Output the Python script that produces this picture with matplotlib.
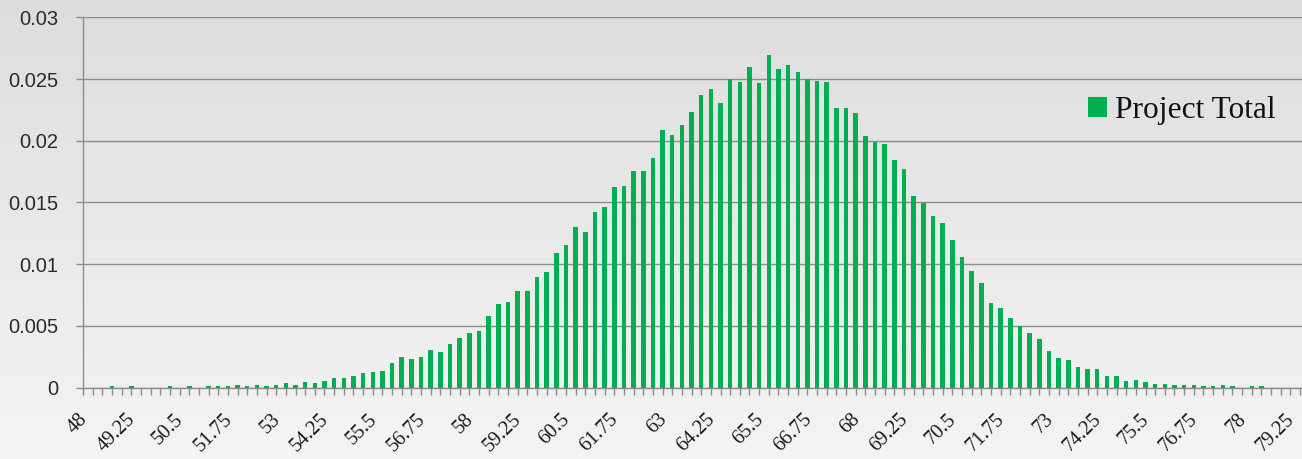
import numpy as np
import matplotlib
matplotlib.use("Agg")
import matplotlib.pyplot as plt
from matplotlib.colors import LinearSegmentedColormap
from matplotlib.transforms import ScaledTranslation
from matplotlib.font_manager import FontProperties

# Bin centres of the simulated project total
categories = [
    48.0, 48.25, 48.5, 48.75, 49.0, 49.25, 49.5, 49.75, 50.0, 50.25,
    50.5, 50.75, 51.0, 51.25, 51.5, 51.75, 52.0, 52.25, 52.5, 52.75,
    53.0, 53.25, 53.5, 53.75, 54.0, 54.25, 54.5, 54.75, 55.0, 55.25,
    55.5, 55.75, 56.0, 56.25, 56.5, 56.75, 57.0, 57.25, 57.5, 57.75,
    58.0, 58.25, 58.5, 58.75, 59.0, 59.25, 59.5, 59.75, 60.0, 60.25,
    60.5, 60.75, 61.0, 61.25, 61.5, 61.75, 62.0, 62.25, 62.5, 62.75,
    63.0, 63.25, 63.5, 63.75, 64.0, 64.25, 64.5, 64.75, 65.0, 65.25,
    65.5, 65.75, 66.0, 66.25, 66.5, 66.75, 67.0, 67.25, 67.5, 67.75,
    68.0, 68.25, 68.5, 68.75, 69.0, 69.25, 69.5, 69.75, 70.0, 70.25,
    70.5, 70.75, 71.0, 71.25, 71.5, 71.75, 72.0, 72.25, 72.5, 72.75,
    73.0, 73.25, 73.5, 73.75, 74.0, 74.25, 74.5, 74.75, 75.0, 75.25,
    75.5, 75.75, 76.0, 76.25, 76.5, 76.75, 77.0, 77.25, 77.5, 77.75,
    78.0, 78.25, 78.5, 78.75, 79.0, 79.25,
]

# Relative frequency of each bin
project_total = [
    0.0, 0.0, 0.0, 0.00015, 0.0, 0.00015, 0.0, 0.0, 0.0, 0.00012,
    0.0, 0.00012, 0.0, 0.00014, 0.00014, 0.00014, 0.00024, 0.00014, 0.00024, 0.00014,
    0.00024, 0.00035, 0.00024, 0.00046, 0.00035, 0.00057, 0.00076, 0.00076, 0.00097, 0.00116,
    0.00127, 0.00138, 0.0020, 0.0025, 0.0023, 0.0025, 0.00303, 0.00292, 0.00354, 0.00405,
    0.00447, 0.00458, 0.00584, 0.00676, 0.00696, 0.0078, 0.0078, 0.00895, 0.00936, 0.01092,
    0.01154, 0.01301, 0.01259, 0.01427, 0.01465, 0.01622, 0.0163, 0.01757, 0.01757, 0.0186,
    0.02089, 0.02048, 0.0213, 0.02236, 0.0237, 0.02422, 0.02308, 0.0250, 0.02474, 0.0260,
    0.02465, 0.02694, 0.02578, 0.0261, 0.02558, 0.0250, 0.02486, 0.02474, 0.02268, 0.02268,
    0.02228, 0.02038, 0.01992, 0.01975, 0.01842, 0.01768, 0.01552, 0.01496, 0.01394, 0.01332,
    0.01197, 0.01062, 0.00949, 0.00846, 0.00689, 0.00649, 0.00562, 0.00498, 0.0044, 0.00397,
    0.00294, 0.00243, 0.00222, 0.00168, 0.00149, 0.00149, 0.00096, 0.00095, 0.00054, 0.00062,
    0.00044, 0.00034, 0.00034, 0.00025, 0.00025, 0.00025, 0.00015, 0.00015, 0.00025, 0.00014,
    0.0, 0.00014, 0.00014, 0.0, 0.0, 0.0,
]

y_ticks = [0.0, 0.005, 0.01, 0.015, 0.02, 0.025, 0.03]
y_tick_labels = ["0", "0.005", "0.01", "0.015", "0.02", "0.025", "0.03"]
label_every = 5
series_name = "Project Total"

BAR_GREEN = "#00b050"
GRID_GREY = "#8c8c8c"
TEXT_DARK = "#2b2b2b"

W, H = 1302, 459
fig = plt.figure(figsize=(W / 100, H / 100), dpi=100)

# Soft vertical gradient behind the whole chart
bg = fig.add_axes([0, 0, 1, 1], zorder=0)
grad = np.linspace(0, 1, 256).reshape(-1, 1)
bg_cmap = LinearSegmentedColormap.from_list("bg", ["#dddddd", "#f4f4f4"])
bg.imshow(grad, aspect="auto", cmap=bg_cmap, extent=[0, 1, 0, 1], origin="upper")
bg.axis("off")

left, right = 83, 1302
base_y, top_y = 387.7, 17.3
ax = fig.add_axes([left / W, (H - base_y) / H, (right - left) / W, (base_y - top_y) / H], zorder=1)
ax.set_facecolor("none")

pos = np.arange(len(categories))
ax.bar(pos, project_total, width=0.47, color=BAR_GREEN, zorder=3, label=series_name)

ax.set_xlim(0, 126.2)
ax.set_ylim(0, 0.03)

# y axis
ax.set_yticks(y_ticks)
ax.set_yticklabels(y_tick_labels, fontproperties=FontProperties(family="Liberation Sans", size=14.5))
ax.yaxis.grid(True, color=GRID_GREY, linewidth=1.0, zorder=0)
ax.set_axisbelow(True)
ax.tick_params(axis="y", length=5, width=1.0, color=GRID_GREY, pad=13, labelcolor=TEXT_DARK)

# x axis: a tick for every bin, a label for every fifth one
major_pos = pos[::label_every]
major_lab = [f"{categories[i]:g}" for i in major_pos]
ax.set_xticks(major_pos)
ax.set_xticklabels(major_lab, rotation=45, ha="right", va="top",
                   fontproperties=FontProperties(family="Liberation Serif", size=14.5))
ax.set_xticks(np.arange(0, 127), minor=True)
ax.tick_params(axis="x", which="both", length=5, width=1.0, color=GRID_GREY, labelcolor="#1a1a1a")
ax.tick_params(axis="x", which="major", pad=11)
shift = ScaledTranslation(8 / 100, 0, fig.dpi_scale_trans)
for lbl in ax.get_xticklabels():
    lbl.set_transform(lbl.get_transform() + shift)

for side in ("top", "right"):
    ax.spines[side].set_visible(False)
for side in ("left", "bottom"):
    ax.spines[side].set_color(GRID_GREY)
    ax.spines[side].set_linewidth(1.0)

ax.legend(loc="center left", bbox_to_anchor=((1088 - left) / (right - left), (base_y - 111) / (base_y - top_y)),
          frameon=False, prop=FontProperties(family="Liberation Serif", size=22.6),
          handlelength=0.6, handleheight=0.6, handletextpad=0.26,
          borderpad=0, borderaxespad=0, labelcolor="#111111")

fig.savefig("out.png", dpi=100)
